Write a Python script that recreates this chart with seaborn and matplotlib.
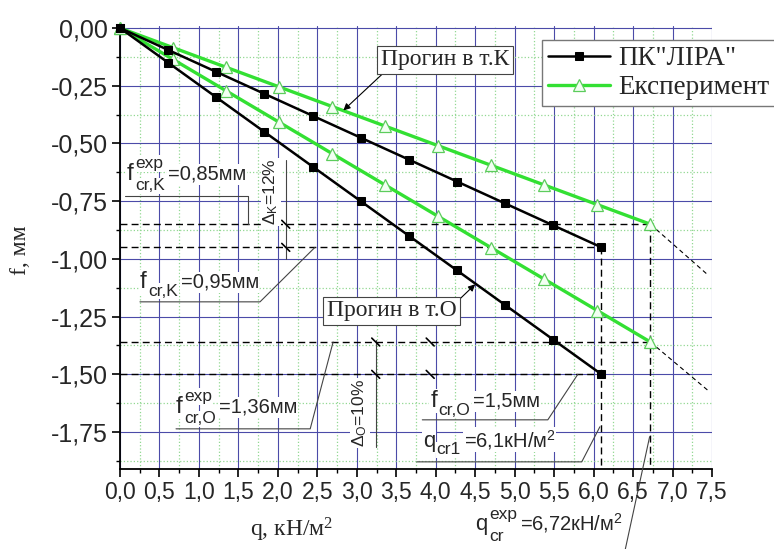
import matplotlib
matplotlib.use('Agg')
import matplotlib.pyplot as plt
import seaborn as sns
import numpy as np
from matplotlib.ticker import MultipleLocator, FuncFormatter

# ---- data ----
q_lira = [0.0, 0.61, 1.22, 1.83, 2.44, 3.05, 3.66, 4.27, 4.88, 5.49, 6.10]
f_lira_K = [0.0, -0.095, -0.19, -0.285, -0.38, -0.475, -0.57, -0.665, -0.76, -0.855, -0.95]
f_lira_O = [0.0, -0.15, -0.30, -0.45, -0.60, -0.75, -0.90, -1.05, -1.20, -1.35, -1.50]

q_exp = [0.0, 0.672, 1.344, 2.016, 2.688, 3.36, 4.032, 4.704, 5.376, 6.048, 6.72]
f_exp_K = [0.0, -0.085, -0.17, -0.255, -0.34, -0.425, -0.51, -0.595, -0.68, -0.765, -0.85]
f_exp_O = [0.0, -0.136, -0.272, -0.408, -0.544, -0.68, -0.816, -0.952, -1.088, -1.224, -1.36]

# extrapolation of the experiment lines (thin dashed)
q_ext = [6.72, 7.45]
f_ext_K = [-0.85, -1.07]
f_ext_O = [-1.36, -1.57]

q_cr1 = 6.1
q_cr_exp = 6.72
f_cr_K, f_cr_K_exp = -0.95, -0.85
f_cr_O, f_cr_O_exp = -1.50, -1.36

sns.set_style("white")
plt.rcParams['font.family'] = ['Liberation Sans', 'DejaVu Sans']

fig = plt.figure(figsize=(7.74, 5.49), dpi=100)
ax = fig.add_axes([0.155, 0.1457, 0.7649, 0.8075])

ax.set_xlim(0, 7.5)
ax.set_ylim(-1.91, 0.01)

# grid
ax.xaxis.set_major_locator(MultipleLocator(0.5))
ax.xaxis.set_minor_locator(MultipleLocator(0.25))
ax.yaxis.set_major_locator(MultipleLocator(0.25))
ax.yaxis.set_minor_locator(MultipleLocator(0.125))
ax.set_axisbelow(True)
ax.grid(which='major', color='#4b4ba8', lw=0.8)
ax.grid(which='minor', color='#92d892', lw=0.9, ls=':')

ax.xaxis.set_major_formatter(FuncFormatter(lambda v, p: f"{v:.1f}".replace('.', ',')))
ax.yaxis.set_major_formatter(FuncFormatter(lambda v, p: ("0,00" if abs(v) < 1e-9 else f"{v:.2f}".replace('.', ','))))
ax.tick_params(which='major', direction='out', length=6, width=1.2, color='black',
               bottom=True, left=True, pad=2.5)
ax.tick_params(axis='x', which='major', labelsize=16.5)
ax.tick_params(axis='y', which='major', labelsize=18)
ax.tick_params(which='minor', direction='out', length=3, width=1.0, color='black', bottom=True, left=True)
for s in ['top', 'right']:
    ax.spines[s].set_visible(False)
for s in ['left', 'bottom']:
    ax.spines[s].set_color('black')
    ax.spines[s].set_linewidth(1.3)

# dashed reference lines
dash = dict(color='black', lw=1.0, ls=(0, (5, 3)), zorder=2)
ax.plot([0, q_cr_exp], [f_cr_K_exp, f_cr_K_exp], **dash)
ax.plot([0, q_cr1], [f_cr_K, f_cr_K], **dash)
ax.plot([0, q_cr_exp], [f_cr_O_exp, f_cr_O_exp], **dash)
ax.plot([0, q_cr1], [f_cr_O, f_cr_O], **dash)
ax.plot([q_cr1, q_cr1], [f_cr_K, -1.91], **dash)
ax.plot([q_cr_exp, q_cr_exp], [f_cr_K_exp, -1.91], **dash)
ax.plot(q_ext, f_ext_K, color='black', lw=0.8, ls=(0, (4, 3)), zorder=2)
ax.plot(q_ext, f_ext_O, color='black', lw=0.8, ls=(0, (4, 3)), zorder=2)

# series
green = '#33e033'
sns.lineplot(x=q_exp, y=f_exp_K, ax=ax, color=green, lw=2.4, marker='^', markersize=8,
             markerfacecolor='#f2fff2', markeredgecolor='#5ccc5c', markeredgewidth=0.9,
             estimator=None, sort=False, label='Експеримент', zorder=4, clip_on=False)
sns.lineplot(x=q_exp, y=f_exp_O, ax=ax, color=green, lw=2.4, marker='^', markersize=8,
             markerfacecolor='#f2fff2', markeredgecolor='#5ccc5c', markeredgewidth=0.9,
             estimator=None, sort=False, zorder=4, clip_on=False)
sns.lineplot(x=q_lira, y=f_lira_K, ax=ax, color='black', lw=1.8, marker='s', markersize=6,
             markerfacecolor='black', markeredgecolor='black',
             estimator=None, sort=False, label='ПК"ЛІРА"', zorder=5, clip_on=False)
sns.lineplot(x=q_lira, y=f_lira_O, ax=ax, color='black', lw=1.8, marker='s', markersize=6,
             markerfacecolor='black', markeredgecolor='black',
             estimator=None, sort=False, zorder=5, clip_on=False)

handles, labels = ax.get_legend_handles_labels()
ax.get_legend().remove()
order = [labels.index('ПК"ЛІРА"'), labels.index('Експеримент')]
fig.legend([handles[i] for i in order], [labels[i] for i in order],
           loc='upper left', bbox_to_anchor=(0.700, 0.927), frameon=True, fancybox=False,
           edgecolor='#777777', framealpha=1, prop={'family': 'Liberation Serif', 'size': 19.5},
           handlelength=2.3, handletextpad=0.3, borderpad=0.22, labelspacing=0.15,
           borderaxespad=0)

# annotation helpers
lead = dict(color='#444444', lw=0.8, clip_on=False, zorder=8)
wbox = dict(facecolor='white', edgecolor='none', pad=0.5)
renderer = fig.canvas.get_renderer()


def sym_label(x, y, base, sup, sub, rest, bs=17.5, ss=12.5, rs=14.5, box=True):
    kw = dict(xycoords='data', textcoords='offset points', va='baseline', zorder=7, annotation_clip=False)
    if box:
        kw['bbox'] = wbox
    t = ax.annotate(base, (x, y), xytext=(0, 0), fontsize=bs, **kw)
    w = t.get_window_extent(renderer).width * 72 / fig.dpi
    ws = 0
    sub_dy = -7.5 if sup else -5.5
    if sup:
        ts = ax.annotate(sup, (x, y), xytext=(w + 1, 8.5), fontsize=ss, **kw)
        ws = max(ws, ts.get_window_extent(renderer).width * 72 / fig.dpi)
    if sub:
        tb = ax.annotate(sub, (x, y), xytext=(w + 1, sub_dy), fontsize=ss, **kw)
        ws = max(ws, tb.get_window_extent(renderer).width * 72 / fig.dpi)
    ax.annotate(rest, (x, y), xytext=(w + ws + 3, 0), fontsize=rs, **kw)


sym_label(0.09, -0.658, 'f', 'exp', 'cr,K', '=0,85мм')
ax.plot([0.063, 1.62, 1.62], [-0.727, -0.727, f_cr_K_exp], **lead)

sym_label(0.253, -1.126, 'f', None, 'cr,K', '=0,95мм')
ax.plot([0.253, 1.774, 2.47], [-1.186, -1.186, f_cr_K], **lead)

sym_label(0.71, -1.667, 'f', 'exp', 'cr,O', '=1,36мм')
ax.plot([0.71, 2.41, 2.70], [-1.736, -1.736, f_cr_O_exp], **lead)

sym_label(3.93, -1.641, 'f', None, 'cr,O', '=1,5мм')
ax.plot([3.83, 5.42, 5.80], [-1.697, -1.697, f_cr_O], **lead)

sym_label(3.84, -1.814, 'q', None, 'cr1', r"=6,1кН/м$\mathregular{^2}$", bs=16)
ax.plot([3.76, 5.85, 6.08], [-1.879, -1.879, -1.727], **lead)

sym_label(4.50, -2.176, 'q', 'exp', 'cr', r"=6,72кН/м$\mathregular{^2}$", bs=16, box=False)
ax.plot([6.40, 6.71], [-2.26, -1.77], **lead)

# dimension lines with percentages
ax.text(1.913, -0.71, r"$\mathregular{\Delta_K}$=12%", fontsize=12.5, rotation=90, ha='center', va='center', bbox=wbox, zorder=6)
ax.plot([2.10, 2.10], [-0.571, -1.0], **lead)
ax.text(3.04, -1.667, r"$\mathregular{\Delta_O}$=10%", fontsize=12.5, rotation=90, ha='center', va='center', bbox=wbox, zorder=6)
ax.plot([3.24, 3.24], [-1.35, -1.814], **lead)
for xs, ys in [(2.10, f_cr_K_exp), (2.10, f_cr_K), (3.24, f_cr_O_exp), (3.24, f_cr_O),
               (3.93, f_cr_O_exp), (3.93, f_cr_O)]:
    ax.plot([xs - 0.05, xs + 0.05], [ys + 0.017, ys - 0.017], color='black', lw=1.2, zorder=8)

# callout boxes
cbox = dict(boxstyle='square,pad=0.15', facecolor='white', edgecolor='#444444', lw=0.8)
ax.annotate('Прогин в т.К', xy=(2.83, -0.357), xytext=(4.12, -0.1385), ha='center', va='center',
            fontsize=17, family='Liberation Serif', bbox=cbox, zorder=7,
            arrowprops=dict(arrowstyle='-|>', color='black', lw=0.8, shrinkA=0, shrinkB=0,
                            relpos=(0.04, 0.0), mutation_scale=10))
ax.annotate('Прогин в т.О', xy=(4.50, -1.11), xytext=(3.44, -1.225), ha='center', va='center',
            fontsize=17, family='Liberation Serif', bbox=cbox, zorder=7,
            arrowprops=dict(arrowstyle='-|>', color='black', lw=0.8, shrinkA=0, shrinkB=0,
                            relpos=(0.99, 0.85), mutation_scale=10))

# axis labels
fig.text(250 / 774, 1 - 537 / 549, r"q, кН/м$\mathregular{^2}$", fontsize=17, family='Liberation Serif', va='baseline')
fig.text(20 / 774, 1 - 250 / 549, "f, мм", fontsize=17, family='Liberation Serif', rotation=90, ha='center', va='center')

fig.savefig('out.png', dpi=100)
